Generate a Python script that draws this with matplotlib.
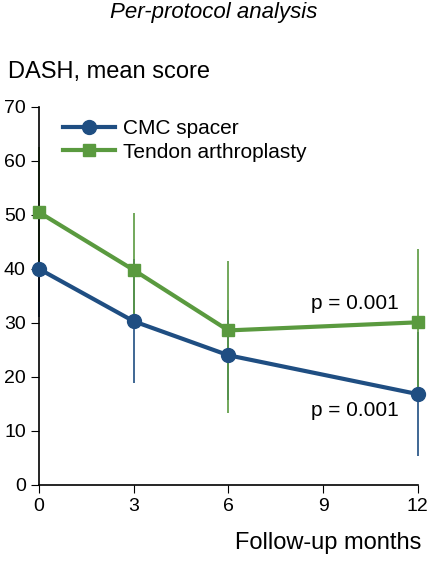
import matplotlib
matplotlib.use("Agg")
import matplotlib.pyplot as plt
plt.rcParams['font.family'] = ['Liberation Sans', 'DejaVu Sans']

months = [0, 3, 6, 12]
cmc = [40.0, 30.3, 24.0, 16.8]
cmc_lo = [31.0, 18.8, 15.7, 5.3]
cmc_hi = [49.0, 41.8, 32.3, 28.3]
ten = [50.5, 39.8, 28.6, 30.1]
ten_lo = [39.0, 29.1, 13.3, 16.6]
ten_hi = [62.5, 50.3, 41.4, 43.6]

blue = "#1f4e82"
green = "#5a9a3f"

fig = plt.figure(figsize=(4.28, 5.69), dpi=100)
ax = fig.add_axes([0.091, 0.148, 0.885, 0.664])

ax.vlines(months, cmc_lo, cmc_hi, color=blue, lw=1.2, zorder=2)
ax.vlines(months, ten_lo, ten_hi, color=green, lw=1.2, zorder=2)
ax.plot(months, cmc, color=blue, lw=3, marker="o", ms=10, label="CMC spacer", zorder=3)
ax.plot(months, ten, color=green, lw=3, marker="s", ms=9, label="Tendon arthroplasty", zorder=3)

ax.set_xlim(0, 12)
ax.set_ylim(0, 70)
ax.set_xticks([0, 3, 6, 9, 12])
ax.set_yticks(range(0, 71, 10))
for s in ["top", "right"]:
    ax.spines[s].set_visible(False)
ax.tick_params(labelsize=14, length=6, direction="out")
for s in ax.spines.values():
    s.set_linewidth(1.2)
for l in ax.lines:
    l.set_clip_on(False)
for c in ax.collections:
    c.set_clip_on(False)

ax.legend(loc="upper left", bbox_to_anchor=(0.03, 1.0), frameon=False, fontsize=15,
          handlelength=2.5, handletextpad=0.4, labelspacing=0.2, borderaxespad=0.2)

ax.text(11.4, 33.5, "p = 0.001", fontsize=15, ha="right", va="center")
ax.text(11.4, 13.8, "p = 0.001", fontsize=15, ha="right", va="center")

fig.text(0.5, 0.978, "Per-protocol analysis", fontsize=16, style="italic", ha="center", va="center")
fig.text(0.018, 0.873, "DASH, mean score", fontsize=17, ha="left", va="center")
fig.text(0.985, 0.045, "Follow-up months", fontsize=17, ha="right", va="center")

fig.savefig("out.png", dpi=100)
